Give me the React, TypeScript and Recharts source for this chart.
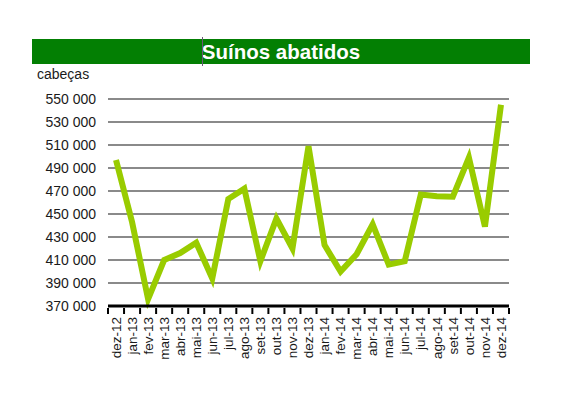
import React from "react";
import { LineChart, Line, XAxis, YAxis, CartesianGrid } from "recharts";

const months = [
  "dez-12", "jan-13", "fev-13", "mar-13", "abr-13", "mai-13", "jun-13", "jul-13", "ago-13",
  "set-13", "out-13", "nov-13", "dez-13", "jan-14", "fev-14", "mar-14", "abr-14", "mai-14",
  "jun-14", "jul-14", "ago-14", "set-14", "out-14", "nov-14", "dez-14",
];

const abatidos = [
  497000, 443000, 376000, 410000, 416000, 425000, 394000, 463000, 472000,
  409000, 446000, 420000, 509000, 423000, 400000, 415000, 441000, 406000,
  409000, 467000, 465500, 465000, 499000, 439000, 545000,
];

const yTicks = [370000, 390000, 410000, 430000, 450000, 470000, 490000, 510000, 530000, 550000];

const data = months.map((m, i) => ({ mes: m, valor: abatidos[i] }));

const W = 571;
const H = 398;
const PLOT_LEFT = 108;
const PLOT_RIGHT = 62;
const HALF_BAND = (W - PLOT_LEFT - PLOT_RIGHT) / months.length / 2;
const FONT = "'Liberation Sans', Arial, sans-serif";

const fmt = (v: number) => {
  const s = String(v);
  return s.slice(0, s.length - 3) + " " + s.slice(-3);
};

const MonthTick = (props: any) => {
  const { x, y, payload, index } = props;
  const last = index === months.length - 1;
  return (
    <g>
      <line x1={x - HALF_BAND} y1={y - 6} x2={x - HALF_BAND} y2={y} stroke="#000" strokeWidth={2} />
      {last && <line x1={x + HALF_BAND} y1={y - 6} x2={x + HALF_BAND} y2={y} stroke="#000" strokeWidth={2} />}
      <text
        x={x}
        y={y + 3}
        dy="0.35em"
        textAnchor="end"
        transform={`rotate(-90, ${x}, ${y + 3})`}
        fontSize={13.5}
        fontFamily={FONT}
        fill="#1a1a1a"
      >
        {payload.value}
      </text>
    </g>
  );
};

export default function App() {
  return (
    <div style={{ position: "absolute", left: 0, top: 0, width: W, height: H, background: "#fff", fontFamily: FONT }}>
      <div
        style={{
          position: "absolute",
          left: 32,
          top: 39,
          width: 498,
          height: 25,
          background: "#037f03",
          color: "#fff",
          fontWeight: "bold",
          fontSize: 20.5,
          lineHeight: "25px",
          textAlign: "center",
        }}
      >
        Suínos abatidos
      </div>
      <div style={{ position: "absolute", left: 202, top: 37, width: 1, height: 29, background: "#6b5878" }} />
      <div style={{ position: "absolute", left: 37, top: 66, fontSize: 14, color: "#1a1a1a" }}>cabeças</div>
      <LineChart
        width={W}
        height={H}
        data={data}
        margin={{ top: 99, right: PLOT_RIGHT, left: 0, bottom: 0 }}
      >
        <CartesianGrid horizontal vertical={false} stroke="#8a8a8a" strokeWidth={2} />
        <YAxis
          width={PLOT_LEFT}
          domain={[370000, 550000]}
          ticks={yTicks}
          interval={0}
          axisLine={false}
          tickLine={false}
          tickMargin={6}
          tickFormatter={fmt}
          tick={{ fontSize: 14, fontFamily: FONT, fill: "#1a1a1a" }}
        />
        <XAxis
          dataKey="mes"
          height={92}
          interval={0}
          padding={{ left: HALF_BAND, right: HALF_BAND }}
          axisLine={{ stroke: "#000", strokeWidth: 3 }}
          tickLine={false}
          tick={<MonthTick />}
        />
        <Line
          type="linear"
          dataKey="valor"
          stroke="#99cc00"
          strokeWidth={6}
          dot={false}
          activeDot={false}
          isAnimationActive={false}
        />
      </LineChart>
    </div>
  );
}
